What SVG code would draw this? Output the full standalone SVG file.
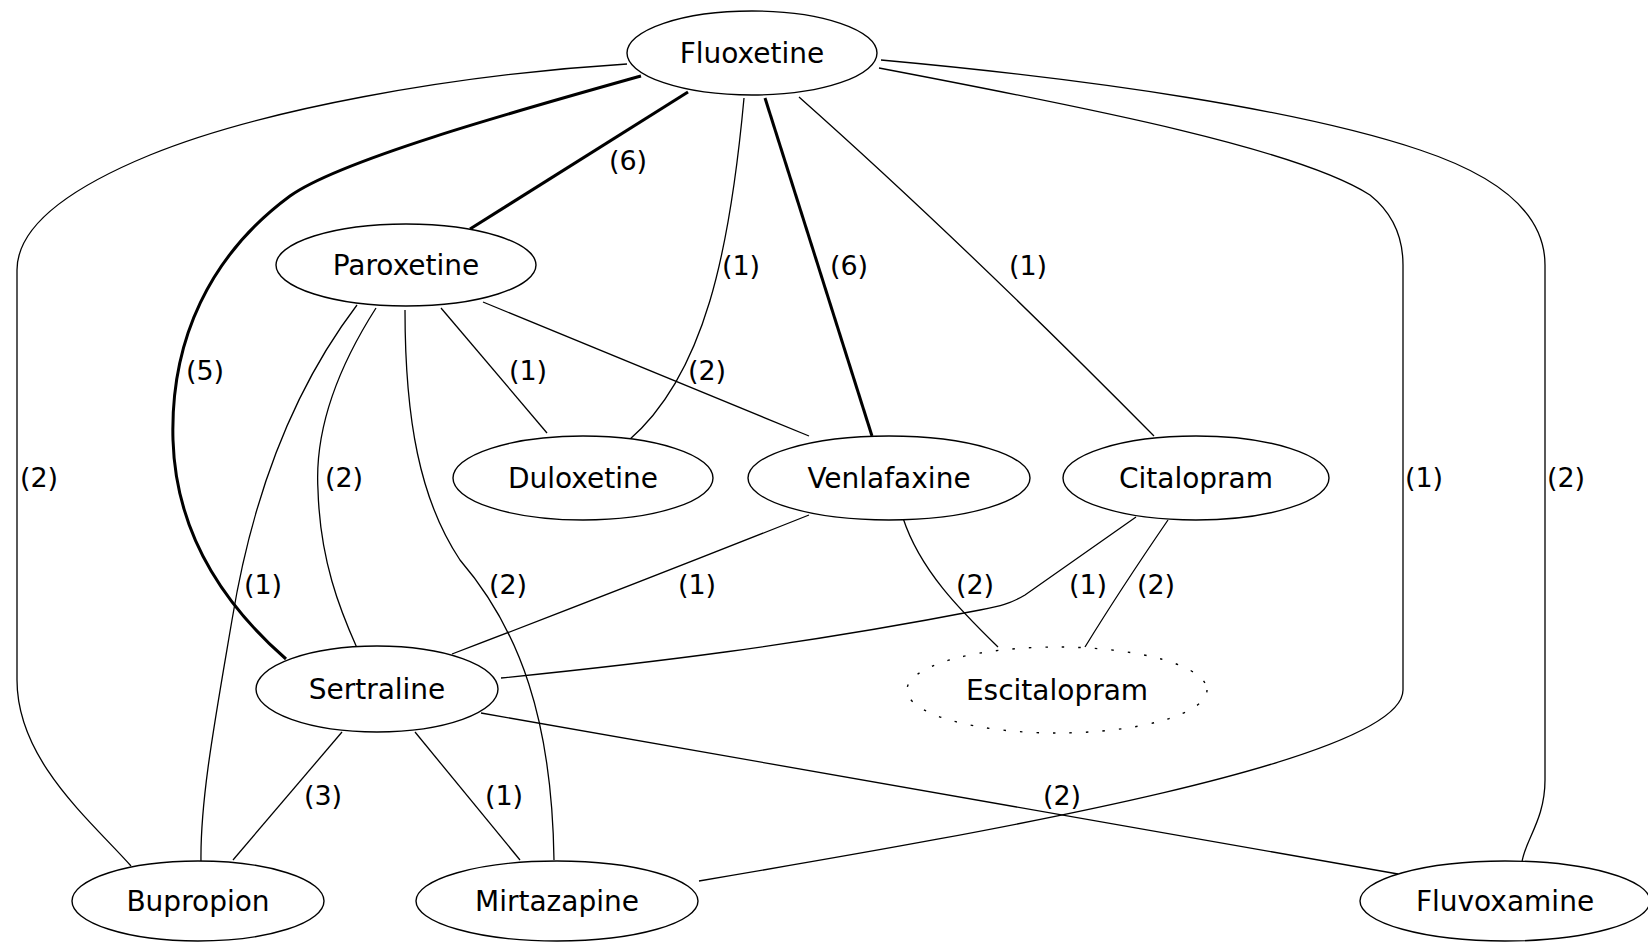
<svg xmlns="http://www.w3.org/2000/svg" width="1648" height="944" viewBox="0 0 1648 944">
<style>
.n ellipse{fill:#fff;stroke:#000;stroke-width:1.4}
.n text{font-family:"DejaVu Sans",sans-serif;font-size:28px;text-anchor:middle;fill:#000}
.e path{fill:none;stroke:#000;stroke-width:1.3}
.e path.b{stroke-width:3}
.lb text{font-family:"DejaVu Sans",sans-serif;font-size:27px;text-anchor:middle;fill:#000}
</style>
<rect width="1648" height="944" fill="#fff"/>
<g id="edges" class="e">
<path d="M627,64 C450,75 260,110 150,155 C60,192 17,230 17,270 L17,680 C17,760 90,820 131,866"/>
<path class="b" d="M641,76 C520,110 340,160 290,196 C210,255 170,340 173,440 C176,540 230,610 286,659"/>
<path class="b" d="M688,92 L470,229"/>
<path d="M744,98 C730,250 705,375 628,441"/>
<path class="b" d="M765,98 L872,436"/>
<path d="M799,97 Q960,240 1154,436"/>
<path d="M879,68 C1100,110 1300,150 1370,195 C1395,215 1403,240 1403,265 L1403,690 C1403,760 1000,830 699,881"/>
<path d="M881,60 C1100,80 1300,110 1420,150 C1510,180 1545,220 1545,265 L1545,780 C1545,820 1525,840 1522,862"/>
<path d="M357,305 C300,380 255,480 232,620 C215,720 200,800 201,862"/>
<path d="M376,308 C330,380 315,440 318,490 C320,560 340,610 357,648"/>
<path d="M405,310 C405,420 420,500 460,560 C520,630 552,720 554,860"/>
<path d="M441,308 L547,433"/>
<path d="M483,302 L809,436"/>
<path d="M809,515 Q620,590 452,654"/>
<path d="M903,518 C920,570 960,610 998,647"/>
<path d="M1136,517 L1025,595 C1010,604 1000,606 980,610 C800,645 650,663 501,678"/>
<path d="M1168,520 Q1120,590 1085,647"/>
<path d="M342,732 L233,860"/>
<path d="M415,732 L520,860"/>
<path d="M481,713 L1398,874"/>
</g>
<g id="labels" class="lb">
<text x="39" y="487">(2)</text>
<text x="205" y="380">(5)</text>
<text x="628" y="170">(6)</text>
<text x="741" y="275">(1)</text>
<text x="849" y="275">(6)</text>
<text x="1028" y="275">(1)</text>
<text x="1424" y="487">(1)</text>
<text x="1566" y="487">(2)</text>
<text x="263" y="594">(1)</text>
<text x="344" y="487">(2)</text>
<text x="508" y="594">(2)</text>
<text x="528" y="380">(1)</text>
<text x="707" y="380">(2)</text>
<text x="697" y="594">(1)</text>
<text x="975" y="594">(2)</text>
<text x="1088" y="594">(1)</text>
<text x="1156" y="594">(2)</text>
<text x="323" y="805">(3)</text>
<text x="504" y="805">(1)</text>
<text x="1062" y="805">(2)</text>
</g>
<g id="fluoxetine" class="n"><ellipse cx="752" cy="53" rx="125" ry="42"/><text x="752" y="63">Fluoxetine</text></g>
<g id="paroxetine" class="n"><ellipse cx="406" cy="265" rx="130" ry="41"/><text x="406" y="275">Paroxetine</text></g>
<g id="duloxetine" class="n"><ellipse cx="583" cy="478" rx="130" ry="42"/><text x="583" y="488">Duloxetine</text></g>
<g id="venlafaxine" class="n"><ellipse cx="889" cy="478" rx="141" ry="42"/><text x="889" y="488">Venlafaxine</text></g>
<g id="citalopram" class="n"><ellipse cx="1196" cy="478" rx="133" ry="42"/><text x="1196" y="488">Citalopram</text></g>
<g id="sertraline" class="n"><ellipse cx="377" cy="689" rx="121" ry="43"/><text x="377" y="699">Sertraline</text></g>
<g id="escitalopram" class="n"><ellipse cx="1057" cy="690" rx="150" ry="43" style="stroke-dasharray:2.5 14"/><text x="1057" y="700">Escitalopram</text></g>
<g id="bupropion" class="n"><ellipse cx="198" cy="901" rx="126" ry="40"/><text x="198" y="911">Bupropion</text></g>
<g id="mirtazapine" class="n"><ellipse cx="557" cy="901" rx="141" ry="40"/><text x="557" y="911">Mirtazapine</text></g>
<g id="fluvoxamine" class="n"><ellipse cx="1505" cy="901" rx="145" ry="40"/><text x="1505" y="911">Fluvoxamine</text></g>
</svg>
